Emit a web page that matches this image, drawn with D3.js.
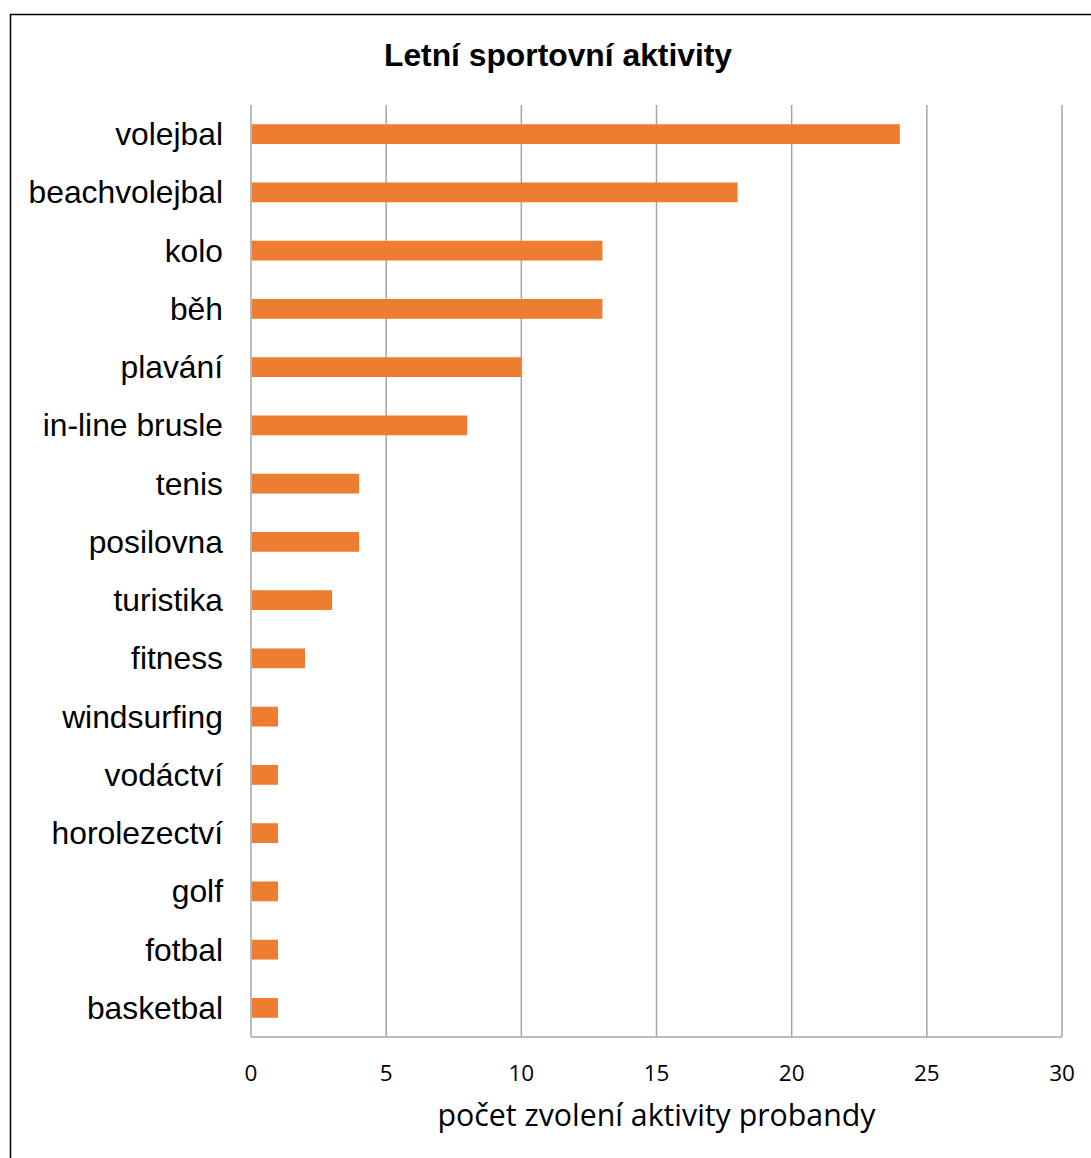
<!DOCTYPE html>
<html>
<head>
<meta charset="utf-8">
<script src="https://cdn.jsdelivr.net/npm/d3@7"></script>
<style>
  html, body { margin: 0; padding: 0; background: #fff; }
  svg { display: block; }
</style>
</head>
<body>
<svg id="chart" width="1091" height="1158"></svg>
<script>
// Summer sport activities – number of times each was chosen by respondents
const categories = [
  "volejbal", "beachvolejbal", "kolo", "běh", "plavání", "in-line brusle",
  "tenis", "posilovna", "turistika", "fitness", "windsurfing", "vodáctví",
  "horolezectví", "golf", "fotbal", "basketbal"
];
const counts = [24, 18, 13, 13, 10, 8, 4, 4, 3, 2, 1, 1, 1, 1, 1, 1];
const xTicks = [0, 5, 10, 15, 20, 25, 30];
const chartTitle = "Letní sportovní aktivity";
const xAxisTitle = "počet zvolení aktivity probandy";

const svg = d3.select("#chart");

// outer frame of the chart area
svg.append("rect")
  .attr("x", 10.5).attr("y", 14.5)
  .attr("width", 1200).attr("height", 1300)
  .attr("fill", "none").attr("stroke", "#000").attr("stroke-width", 1.5);

const plot = { left: 251, right: 1062, top: 105, bottom: 1037 };

const x = d3.scaleLinear().domain([0, 30]).range([plot.left, plot.right]);
const y = d3.scaleBand().domain(categories).range([plot.top, plot.bottom])
  .paddingInner(0.66).paddingOuter(0.33);

// vertical gridlines
svg.append("g").selectAll("line").data(xTicks).join("line")
  .attr("x1", d => x(d)).attr("x2", d => x(d))
  .attr("y1", plot.top).attr("y2", plot.bottom)
  .attr("stroke", "#a6a6a6").attr("stroke-width", 1.5);

// bottom axis line
svg.append("line")
  .attr("x1", plot.left).attr("x2", plot.right)
  .attr("y1", plot.bottom).attr("y2", plot.bottom)
  .attr("stroke", "#a6a6a6").attr("stroke-width", 1.5);

// bars
const rows = categories.map((c, i) => ({ name: c, value: counts[i] }));
svg.append("g").selectAll("rect").data(rows).join("rect")
  .attr("x", x(0) + 0.75)
  .attr("y", d => y(d.name))
  .attr("width", d => x(d.value) - x(0) - 0.75)
  .attr("height", y.bandwidth())
  .attr("fill", "#ed7d31");

// category labels
svg.append("g").selectAll("text").data(rows).join("text")
  .attr("x", plot.left - 28)
  .attr("y", d => y(d.name) + y.bandwidth() / 2)
  .attr("text-anchor", "end")
  .attr("dominant-baseline", "central")
  .attr("font-family", "Liberation Sans, Arial, sans-serif")
  .attr("font-size", 31.8)
  .attr("fill", "#000")
  .text(d => d.name);

// x tick labels
svg.append("g").selectAll("text").data(xTicks).join("text")
  .attr("x", d => x(d))
  .attr("y", 1081)
  .attr("text-anchor", "middle")
  .attr("font-family", "Open Sans, sans-serif")
  .attr("font-size", 22.5)
  .attr("fill", "#000")
  .text(d => d);

// axis title
svg.append("text")
  .attr("x", (plot.left + plot.right) / 2)
  .attr("y", 1126)
  .attr("text-anchor", "middle")
  .attr("font-family", "Open Sans, sans-serif")
  .attr("font-size", 30.3)
  .attr("fill", "#000")
  .text(xAxisTitle);

// chart title
svg.append("text")
  .attr("x", 558)
  .attr("y", 66)
  .attr("text-anchor", "middle")
  .attr("font-family", "Liberation Sans, Arial, sans-serif")
  .attr("font-weight", "bold")
  .attr("font-size", 31.8)
  .attr("fill", "#000")
  .text(chartTitle);
</script>
</body>
</html>
